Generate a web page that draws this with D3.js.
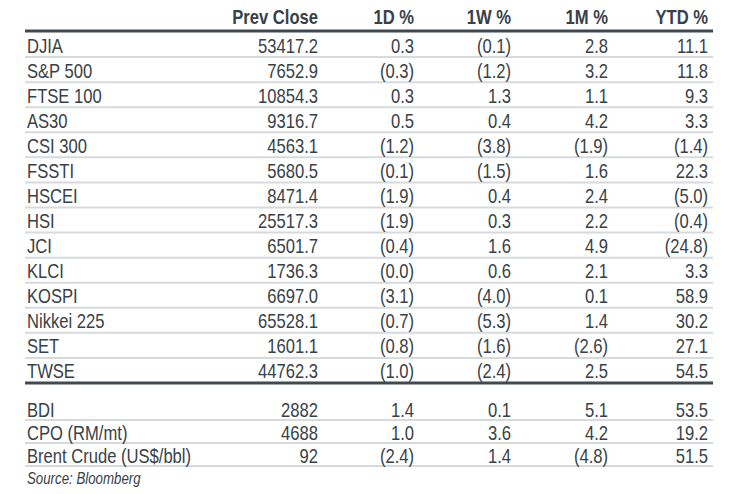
<!DOCTYPE html>
<html>
<head>
<meta charset="utf-8">
<script src="https://cdn.jsdelivr.net/npm/d3@7"></script>
<style>
  body { margin: 0; background: #fff; }
  svg text { font-family: "Liberation Sans", Arial, sans-serif; fill: #384147; }
</style>
</head>
<body>
<div id="chart"></div>
<script>
// table data
const columns = ["Prev Close", "1D %", "1W %", "1M %", "YTD %"];

const indexNames = ["DJIA", "S&P 500", "FTSE 100", "AS30", "CSI 300", "FSSTI", "HSCEI", "HSI",
  "JCI", "KLCI", "KOSPI", "Nikkei 225", "SET", "TWSE"];
const indexPrev = [53417.2, 7652.9, 10854.3, 9316.7, 4563.1, 5680.5, 8471.4, 25517.3,
  6501.7, 1736.3, 6697.0, 65528.1, 1601.1, 44762.3];
const index1D = [0.3, -0.3, 0.3, 0.5, -1.2, -0.1, -1.9, -1.9, -0.4, -0.0, -3.1, -0.7, -0.8, -1.0];
const index1W = [-0.1, -1.2, 1.3, 0.4, -3.8, -1.5, 0.4, 0.3, 1.6, 0.6, -4.0, -5.3, -1.6, -2.4];
const index1M = [2.8, 3.2, 1.1, 4.2, -1.9, 1.6, 2.4, 2.2, 4.9, 2.1, 0.1, 1.4, -2.6, 2.5];
const indexYTD = [11.1, 11.8, 9.3, 3.3, -1.4, 22.3, -5.0, -0.4, -24.8, 3.3, 58.9, 30.2, 27.1, 54.5];

const commodNames = ["BDI", "CPO (RM/mt)", "Brent Crude (US$/bbl)"];
const commodPrev = [2882, 4688, 92];
const commod1D = [1.4, 1.0, -2.4];
const commod1W = [0.1, 3.6, 1.4];
const commod1M = [5.1, 4.2, -4.8];
const commodYTD = [53.5, 19.2, 51.5];

const source = "Source: Bloomberg";

const width = 730, height = 494;
const left = 25, right = 713;
const fs = 20, squeeze = 0.83; // narrow face faked by horizontal scaling

const svg = d3.select("#chart").append("svg")
  .attr("width", width).attr("height", height);

// right edge of each column
const colX = d3.scaleOrdinal().domain(columns).range([318, 414, 511, 608, 708]);

const pct = d3.format(".1f");
function fmtPct(v) {
  // negative numbers in brackets, -0.0 too
  if (v < 0 || Object.is(v, -0)) return "(" + pct(Math.abs(v)) + ")";
  return pct(v);
}

function place(x, y) {
  return "translate(" + x + "," + y + ") scale(" + squeeze + ",1)";
}

// header
svg.append("g").selectAll("text")
  .data(columns)
  .join("text")
  .attr("transform", d => place(colX(d), 17))
  .attr("dy", "0.35em")
  .attr("text-anchor", "end")
  .attr("font-weight", "bold")
  .attr("font-size", fs)
  .text(d => d);

function section(names, prev, prevFmt, d1, w1, m1, ytd, y0, y1) {
  const y = d3.scaleBand().domain(names).range([y0, y1]);
  const rows = names.map((n, i) => ({
    name: n,
    vals: [prevFmt(prev[i]), fmtPct(d1[i]), fmtPct(w1[i]), fmtPct(m1[i]), fmtPct(ytd[i])]
  }));
  const g = svg.append("g");

  g.selectAll("line.sep")
    .data(names)
    .join("line")
    .attr("class", "sep")
    .attr("x1", left).attr("x2", right)
    .attr("y1", d => y(d) + y.bandwidth())
    .attr("y2", d => y(d) + y.bandwidth())
    .attr("stroke", "#d6dadd")
    .attr("stroke-width", 2);

  const row = g.selectAll("g.row")
    .data(rows)
    .join("g")
    .attr("class", "row")
    .attr("transform", d => "translate(0," + (y(d.name) + y.bandwidth() / 2 + 1) + ")");

  row.append("text")
    .attr("transform", place(left + 2, 0))
    .attr("dy", "0.35em")
    .attr("font-size", fs)
    .text(d => d.name);

  row.selectAll("text.val")
    .data(d => d.vals.map((v, j) => ({ col: columns[j], v: v })))
    .join("text")
    .attr("class", "val")
    .attr("transform", d => place(colX(d.col), 0))
    .attr("dy", "0.35em")
    .attr("text-anchor", "end")
    .attr("font-size", fs)
    .text(d => d.v);
  return y;
}

section(indexNames, indexPrev, d3.format(".1f"), index1D, index1W, index1M, indexYTD, 32, 383);
section(commodNames, commodPrev, d3.format("d"), commod1D, commod1W, commod1M, commodYTD, 397, 466);

// thick rules
svg.selectAll("line.rule")
  .data([31, 383])
  .join("line")
  .attr("class", "rule")
  .attr("x1", left).attr("x2", right)
  .attr("y1", d => d).attr("y2", d => d)
  .attr("stroke", "#3e4a51")
  .attr("stroke-width", 3);

svg.append("text")
  .attr("transform", place(left + 2, 478))
  .attr("dy", "0.35em")
  .attr("font-size", 16)
  .attr("font-style", "italic")
  .text(source);
</script>
</body>
</html>
